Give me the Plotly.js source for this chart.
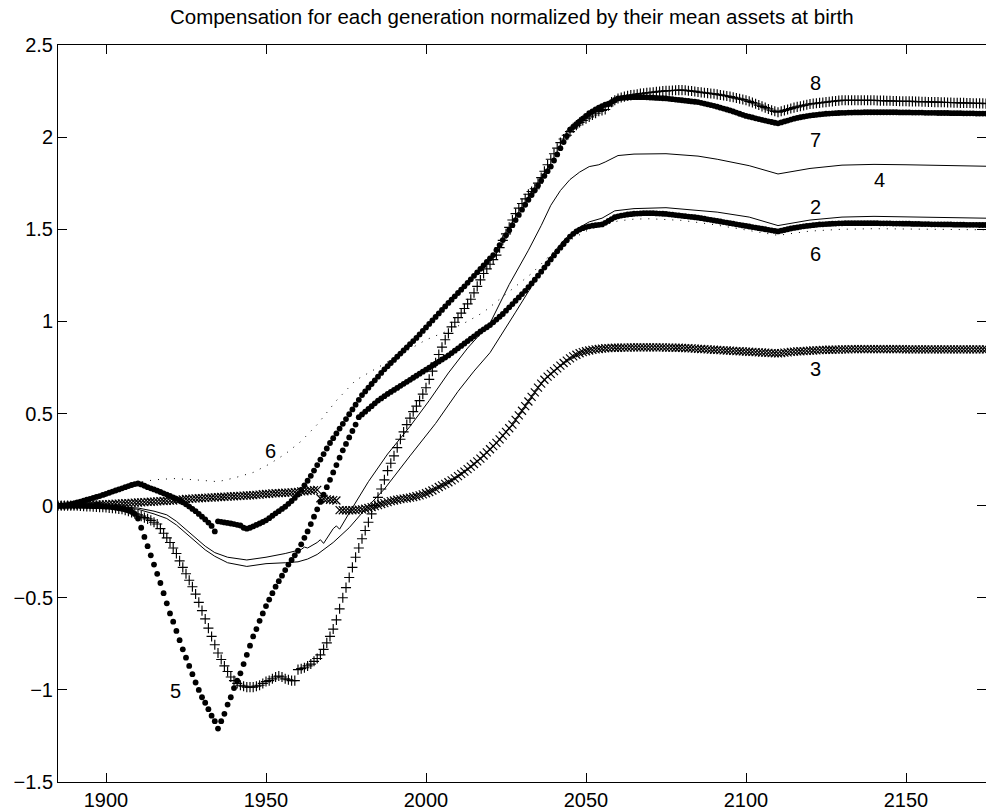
<!DOCTYPE html>
<html>
<head>
<meta charset="utf-8">
<script src="https://cdn.plot.ly/plotly-3.0.1.min.js"></script>
<style>
  html, body { margin: 0; padding: 0; background: #fff; }
  #chart { width: 986px; height: 811px; }
</style>
</head>
<body>
<div id="chart"></div>
<script>
// Generations born 1885..2175, one value per birth year for the marker series.
const firstYear = 1885;

// Scenario 8 ('+' markers)
const s8 = [
  0, 0, 0, 0, 0, 0, -0.001, -0.002, -0.003, -0.004,
  -0.005, -0.006, -0.007, -0.008, -0.009, -0.01, -0.012, -0.014, -0.016, -0.018,
  -0.02, -0.025, -0.03, -0.037, -0.044, -0.05, -0.057, -0.065, -0.072, -0.08,
  -0.09, -0.1, -0.125, -0.15, -0.175, -0.2, -0.23, -0.26, -0.3, -0.335,
  -0.37, -0.405, -0.44, -0.48, -0.525, -0.57, -0.615, -0.665, -0.71, -0.755,
  -0.8, -0.835, -0.87, -0.9, -0.93, -0.95, -0.965, -0.975, -0.98, -0.985,
  -0.985, -0.985, -0.98, -0.975, -0.965, -0.955, -0.95, -0.94, -0.93, -0.925,
  -0.93, -0.94, -0.945, -0.95, -0.95, -0.89, -0.885, -0.88, -0.87, -0.86,
  -0.845, -0.83, -0.81, -0.78, -0.745, -0.71, -0.67, -0.62, -0.56, -0.5,
  -0.445, -0.39, -0.335, -0.28, -0.23, -0.18, -0.135, -0.09, -0.045, 0.0,
  0.045, 0.09, 0.14, 0.19, 0.23, 0.27, 0.315, 0.36, 0.4, 0.44,
  0.475, 0.51, 0.54, 0.57, 0.605, 0.64, 0.685, 0.73, 0.775, 0.82,
  0.86, 0.9, 0.935, 0.97, 0.995, 1.02, 1.045, 1.07, 1.095, 1.12,
  1.155, 1.19, 1.225, 1.26, 1.285, 1.31, 1.335, 1.36, 1.4, 1.44,
  1.475, 1.51, 1.55, 1.585, 1.615, 1.64, 1.665, 1.69, 1.705, 1.72,
  1.75, 1.78, 1.815, 1.85, 1.88, 1.91, 1.94, 1.97, 1.99, 2.01,
  2.03, 2.05, 2.065, 2.08, 2.09, 2.1, 2.11, 2.12, 2.13, 2.14,
  2.145, 2.15, 2.17, 2.19, 2.2, 2.21, 2.215, 2.22, 2.225, 2.228,
  2.23, 2.233, 2.236, 2.238, 2.24, 2.242, 2.244, 2.246, 2.248, 2.25,
  2.251, 2.252, 2.253, 2.254, 2.255, 2.255, 2.254, 2.252, 2.25, 2.248,
  2.245, 2.243, 2.241, 2.239, 2.237, 2.235, 2.232, 2.229, 2.226, 2.223,
  2.22, 2.216, 2.212, 2.208, 2.204, 2.2, 2.194, 2.188, 2.181, 2.174,
  2.167, 2.16, 2.153, 2.146, 2.14, 2.135, 2.14, 2.145, 2.15, 2.155,
  2.16, 2.164, 2.168, 2.172, 2.176, 2.18, 2.182, 2.184, 2.186, 2.188,
  2.19, 2.192, 2.194, 2.196, 2.198, 2.2, 2.2, 2.2, 2.2, 2.2,
  2.2, 2.2, 2.2, 2.2, 2.2, 2.2, 2.199, 2.198, 2.198, 2.197,
  2.197, 2.196, 2.196, 2.195, 2.195, 2.195, 2.194, 2.194, 2.193, 2.193,
  2.192, 2.192, 2.191, 2.191, 2.19, 2.19, 2.189, 2.189, 2.188, 2.188,
  2.187, 2.187, 2.186, 2.186, 2.185, 2.185, 2.184, 2.184, 2.183, 2.183,
  2.182
];

// Scenario 7 (large dots)
const s7 = [
  0, 0, 0, 0.002, 0.006, 0.012, 0.017, 0.022, 0.027, 0.032,
  0.037, 0.042, 0.047, 0.052, 0.058, 0.064, 0.07, 0.076, 0.082, 0.088,
  0.094, 0.1, 0.106, 0.112, 0.117, 0.12, 0.115, 0.108, 0.1, 0.094,
  0.088, 0.081, 0.074, 0.067, 0.06, 0.053, 0.045, 0.037, 0.028, 0.018,
  0.007, -0.005, -0.018, -0.03, -0.045, -0.06, -0.075, -0.092, -0.11, -0.14,
  -0.085, -0.088, -0.091, -0.094, -0.097, -0.1, -0.104, -0.108, -0.12, -0.125,
  -0.12, -0.113, -0.105, -0.097, -0.089, -0.08, -0.068, -0.055, -0.042, -0.03,
  -0.018, -0.006, 0.01, 0.025, 0.042, 0.06, 0.085, 0.11, 0.135, 0.162,
  0.19, 0.22, 0.25, 0.28, 0.31, 0.34, 0.366, 0.392, 0.418, 0.444,
  0.47, 0.496, 0.522, 0.548, 0.574, 0.6, 0.62, 0.64, 0.66, 0.68,
  0.7, 0.72, 0.74, 0.757, 0.774, 0.791, 0.808, 0.825, 0.842, 0.859,
  0.876, 0.893, 0.91, 0.929, 0.948, 0.967, 0.986, 1.005, 1.024, 1.043,
  1.062, 1.081, 1.1, 1.118, 1.136, 1.154, 1.172, 1.19, 1.209, 1.228,
  1.247, 1.266, 1.285, 1.304, 1.323, 1.342, 1.36, 1.387, 1.414, 1.441,
  1.468, 1.495, 1.522, 1.55, 1.578, 1.606, 1.633, 1.66, 1.686, 1.712,
  1.738, 1.764, 1.79, 1.815, 1.84, 1.873, 1.906, 1.94, 1.973, 2.006,
  2.04, 2.055, 2.07, 2.085, 2.1, 2.115, 2.13, 2.14, 2.15, 2.16,
  2.168, 2.176, 2.18, 2.19, 2.2, 2.21, 2.212, 2.214, 2.215, 2.216,
  2.217, 2.217, 2.217, 2.217, 2.216, 2.215, 2.214, 2.213, 2.212, 2.211,
  2.21, 2.208, 2.206, 2.204, 2.202, 2.2, 2.198, 2.196, 2.194, 2.192,
  2.19, 2.186, 2.182, 2.178, 2.174, 2.17, 2.165, 2.16, 2.155, 2.15,
  2.145, 2.139, 2.133, 2.127, 2.121, 2.115, 2.111, 2.107, 2.102, 2.098,
  2.094, 2.09, 2.086, 2.082, 2.078, 2.075, 2.08, 2.085, 2.09, 2.095,
  2.1, 2.104, 2.108, 2.111, 2.114, 2.117, 2.119, 2.121, 2.123, 2.125,
  2.127, 2.128, 2.129, 2.13, 2.131, 2.132, 2.132, 2.133, 2.133, 2.134,
  2.134, 2.134, 2.135, 2.135, 2.135, 2.135, 2.135, 2.135, 2.135, 2.135,
  2.135, 2.135, 2.135, 2.134, 2.134, 2.134, 2.134, 2.133, 2.133, 2.133,
  2.133, 2.132, 2.132, 2.132, 2.132, 2.131, 2.131, 2.131, 2.131, 2.13,
  2.13, 2.13, 2.13, 2.129, 2.129, 2.129, 2.129, 2.128, 2.128, 2.128,
  2.128
];

// Scenario 5 (large dots)
const s5 = [
  0, 0, 0, 0, 0, 0, 0, -0.001, -0.001, -0.002,
  -0.002, -0.003, -0.003, -0.004, -0.005, -0.006, -0.007, -0.009, -0.011, -0.014,
  -0.017, -0.021, -0.026, -0.033, -0.045, -0.07, -0.12, -0.17, -0.22, -0.27,
  -0.32, -0.37, -0.42, -0.475, -0.53, -0.585, -0.63, -0.68, -0.73, -0.78,
  -0.825, -0.87, -0.915, -0.96, -1.0, -1.04, -1.07, -1.105, -1.14, -1.17,
  -1.21, -1.17, -1.13, -1.08, -1.04, -0.99, -0.95, -0.91, -0.86, -0.81,
  -0.76, -0.71, -0.67, -0.625, -0.585, -0.545, -0.51, -0.475, -0.44, -0.41,
  -0.38, -0.35, -0.32, -0.295, -0.27, -0.245, -0.21, -0.175, -0.14, -0.1,
  -0.06, -0.02, 0.02, 0.06, 0.1, 0.14, 0.18, 0.22, 0.26, 0.3,
  0.335, 0.37, 0.405, 0.44, 0.48, 0.495, 0.51, 0.525, 0.54, 0.555,
  0.57, 0.582, 0.594, 0.606, 0.617, 0.628, 0.639, 0.65, 0.661, 0.672,
  0.683, 0.694, 0.705, 0.716, 0.727, 0.738, 0.749, 0.76, 0.771, 0.782,
  0.793, 0.804, 0.815, 0.828, 0.841, 0.854, 0.867, 0.88, 0.893, 0.906,
  0.919, 0.932, 0.945, 0.957, 0.968, 0.98, 0.995, 1.01, 1.025, 1.04,
  1.058, 1.076, 1.094, 1.112, 1.13, 1.148, 1.166, 1.186, 1.206, 1.226,
  1.248, 1.27, 1.292, 1.314, 1.336, 1.358, 1.38, 1.4, 1.42, 1.44,
  1.46, 1.475, 1.488, 1.498, 1.506, 1.512, 1.516, 1.52, 1.522, 1.524,
  1.526, 1.535, 1.545, 1.555, 1.565, 1.57, 1.574, 1.577, 1.58, 1.582,
  1.584, 1.585, 1.586, 1.587, 1.587, 1.587, 1.587, 1.586, 1.585, 1.584,
  1.583, 1.581, 1.579, 1.577, 1.575, 1.573, 1.571, 1.569, 1.567, 1.565,
  1.563, 1.56, 1.557, 1.554, 1.551, 1.548, 1.545, 1.542, 1.539, 1.536,
  1.533, 1.53, 1.527, 1.524, 1.521, 1.518, 1.515, 1.512, 1.509, 1.506,
  1.503, 1.5, 1.497, 1.494, 1.491, 1.488, 1.492, 1.496, 1.5, 1.504,
  1.507, 1.51, 1.513, 1.516, 1.518, 1.52, 1.522, 1.524, 1.526, 1.527,
  1.528, 1.529, 1.53, 1.531, 1.532, 1.532, 1.533, 1.533, 1.533, 1.533,
  1.533, 1.533, 1.533, 1.533, 1.533, 1.533, 1.533, 1.532, 1.532, 1.532,
  1.532, 1.531, 1.531, 1.531, 1.53, 1.53, 1.53, 1.529, 1.529, 1.529,
  1.528, 1.528, 1.528, 1.527, 1.527, 1.527, 1.526, 1.526, 1.526, 1.526,
  1.525, 1.525, 1.525, 1.525, 1.524, 1.524, 1.524, 1.524, 1.523, 1.523,
  1.523
];

// Scenario 3 ('x' markers)
const s3 = [
  0, 0, 0.001, 0.001, 0.002, 0.002, 0.003, 0.003, 0.004, 0.004,
  0.005, 0.005, 0.006, 0.006, 0.007, 0.007, 0.008, 0.009, 0.01, 0.011,
  0.012, 0.013, 0.014, 0.015, 0.016, 0.017, 0.018, 0.019, 0.02, 0.021,
  0.022, 0.023, 0.024, 0.025, 0.026, 0.027, 0.028, 0.03, 0.032, 0.034,
  0.036, 0.037, 0.038, 0.039, 0.04, 0.041, 0.042, 0.043, 0.044, 0.045,
  0.046, 0.047, 0.048, 0.049, 0.05, 0.051, 0.052, 0.053, 0.054, 0.055,
  0.056, 0.057, 0.058, 0.06, 0.062, 0.063, 0.064, 0.066, 0.067, 0.068,
  0.069, 0.07, 0.071, 0.072, 0.073, 0.075, 0.077, 0.078, 0.08, 0.082,
  0.084, 0.085, 0.04, 0.037, 0.034, 0.032, 0.03, 0.028, -0.024, -0.025,
  -0.026, -0.026, -0.025, -0.024, -0.022, -0.02, -0.017, -0.013, -0.008, -0.003,
  0.003, 0.009, 0.014, 0.019, 0.024, 0.028, 0.032, 0.035, 0.038, 0.04,
  0.043, 0.047, 0.051, 0.056, 0.061, 0.067, 0.074, 0.082, 0.091, 0.101,
  0.11, 0.118, 0.127, 0.137, 0.148, 0.16, 0.172, 0.185, 0.198, 0.212,
  0.226, 0.24, 0.255, 0.272, 0.289, 0.306, 0.323, 0.341, 0.36, 0.38,
  0.4, 0.42, 0.44, 0.465, 0.49, 0.515, 0.54, 0.565, 0.59, 0.615,
  0.64, 0.662, 0.683, 0.7, 0.715, 0.73, 0.745, 0.76, 0.774, 0.787,
  0.799, 0.81, 0.819, 0.827, 0.833, 0.838, 0.842, 0.845, 0.848, 0.85,
  0.852, 0.854, 0.855, 0.856, 0.857, 0.857, 0.858, 0.858, 0.858, 0.859,
  0.859, 0.859, 0.859, 0.859, 0.859, 0.859, 0.859, 0.859, 0.859, 0.859,
  0.858, 0.858, 0.858, 0.857, 0.857, 0.856, 0.855, 0.854, 0.853, 0.852,
  0.851, 0.85, 0.849, 0.848, 0.847, 0.846, 0.845, 0.844, 0.843, 0.842,
  0.841, 0.84, 0.839, 0.838, 0.837, 0.836, 0.835, 0.834, 0.833, 0.832,
  0.831, 0.83, 0.829, 0.828, 0.827, 0.826, 0.828, 0.83, 0.832, 0.834,
  0.836, 0.837, 0.838, 0.839, 0.84, 0.841, 0.842, 0.843, 0.844, 0.845,
  0.845, 0.846, 0.846, 0.847, 0.847, 0.848, 0.848, 0.848, 0.849, 0.849,
  0.849, 0.849, 0.849, 0.849, 0.849, 0.849, 0.849, 0.849, 0.849, 0.849,
  0.849, 0.849, 0.849, 0.849, 0.849, 0.848, 0.848, 0.848, 0.848, 0.848,
  0.848, 0.848, 0.848, 0.848, 0.848, 0.848, 0.848, 0.848, 0.848, 0.848,
  0.848, 0.848, 0.848, 0.848, 0.848, 0.848, 0.848, 0.848, 0.848, 0.848,
  0.848
];

// Scenario 2 (thin solid line)
const s2Years = [1885, 1895, 1900, 1905, 1910, 1915, 1919, 1922, 1925, 1928, 1931, 1934, 1938, 1944, 1950, 1956, 1960, 1963, 1966, 1971, 1976, 1981, 1987, 1995, 2003, 2010, 2015, 2020, 2023, 2028, 2033, 2038, 2043, 2047, 2051, 2055, 2059, 2065, 2075, 2085, 2091, 2101, 2110, 2120, 2130, 2140, 2150, 2160, 2175];
const s2Vals  = [0, 0, -0.004, -0.009, -0.02, -0.045, -0.07, -0.105, -0.15, -0.195, -0.24, -0.275, -0.31, -0.33, -0.315, -0.31, -0.305, -0.29, -0.265, -0.2, -0.12, -0.02, 0.09, 0.27, 0.446, 0.62, 0.73, 0.83, 0.915, 1.05, 1.19, 1.33, 1.44, 1.5, 1.54, 1.56, 1.6, 1.612, 1.617, 1.603, 1.593, 1.566, 1.52, 1.55, 1.566, 1.57, 1.568, 1.565, 1.56];

// Scenario 4 (thin solid line)
const s4Years = [1885, 1895, 1900, 1905, 1910, 1915, 1919, 1922, 1925, 1928, 1931, 1934, 1938, 1944, 1950, 1956, 1960, 1961, 1962, 1963, 1966, 1967, 1968, 1971, 1972, 1973, 1976, 1982, 1988, 1995, 2001, 2007, 2013, 2020, 2026, 2032, 2036, 2039, 2042, 2045, 2048, 2051, 2054, 2056, 2060, 2065, 2075, 2085, 2091, 2101, 2110, 2120, 2130, 2140, 2150, 2160, 2175];
const s4Vals  = [0, 0, -0.003, -0.007, -0.013, -0.03, -0.05, -0.085, -0.13, -0.175, -0.22, -0.255, -0.28, -0.295, -0.28, -0.26, -0.245, -0.238, -0.225, -0.23, -0.2, -0.185, -0.205, -0.125, -0.11, -0.128, -0.04, 0.13, 0.28, 0.43, 0.57, 0.72, 0.855, 0.99, 1.2, 1.386, 1.52, 1.63, 1.71, 1.77, 1.81, 1.84, 1.85, 1.865, 1.9, 1.908, 1.91, 1.897, 1.88, 1.845, 1.8, 1.83, 1.848, 1.852, 1.85, 1.846, 1.842];

// Scenario 6 (dotted line)
const s6Years = [1885, 1890, 1895, 1900, 1905, 1910, 1915, 1921, 1928, 1935, 1940, 1946, 1951, 1956, 1961, 1966, 1972, 1978, 1984, 1989, 1995, 2000, 2007, 2013, 2018, 2023, 2028, 2033, 2040, 2045, 2050, 2055, 2060, 2065, 2070, 2080, 2090, 2100, 2110, 2120, 2130, 2140, 2150, 2160, 2175];
const s6Vals  = [0, 0.012, 0.03, 0.05, 0.09, 0.125, 0.14, 0.147, 0.14, 0.13, 0.15, 0.18, 0.225, 0.28, 0.35, 0.44, 0.57, 0.68, 0.74, 0.79, 0.85, 0.9, 0.95, 1.0, 1.05, 1.12, 1.19, 1.26, 1.38, 1.44, 1.49, 1.52, 1.545, 1.555, 1.557, 1.548, 1.525, 1.495, 1.467, 1.49, 1.5, 1.503, 1.502, 1.5, 1.497];

// Curve labels placed next to the lines
const labelText = ['8', '7', '4', '2', '6', '3', '6', '5'];
const labelX    = [2121.8, 2121.8, 2141.6, 2121.8, 2121.8, 2121.8, 1951.5, 1921.8];
const labelY    = [2.293, 1.986, 1.765, 1.62, 1.367, 0.744, 0.295, -1.006];

const xTicks = [1900, 1950, 2000, 2050, 2100, 2150];
const yTicks = [-1.5, -1, -0.5, 0, 0.5, 1, 1.5, 2, 2.5];

const FONT = 'Liberation Sans, Arial, Helvetica, sans-serif';

function markerSeries(vals, symbol, size, filled) {
  const m = filled
    ? { symbol: symbol, size: size, color: '#000' }
    : { symbol: symbol, size: size, color: '#000', line: { color: '#000', width: 1.15 } };
  return { type: 'scatter', mode: 'markers', x0: firstYear, dx: 1, y: vals, marker: m, hoverinfo: 'skip' };
}

function lineSeries(xs, ys, dash) {
  return { type: 'scatter', mode: 'lines', x: xs, y: ys,
           line: { color: '#000', width: 1, dash: dash }, hoverinfo: 'skip' };
}

const traces = [
  lineSeries(s2Years, s2Vals, 'solid'),
  lineSeries(s4Years, s4Vals, 'solid'),
  lineSeries(s6Years, s6Vals, '1px,7px'),
  markerSeries(s3, 'x-thin', 8, false),
  markerSeries(s8, 'cross-thin', 7.2, false),
  markerSeries(s5, 'circle', 5.8, true),
  markerSeries(s7, 'circle', 5.8, true)
];

const annotations = labelText.map((t, i) => ({
  text: t, x: labelX[i], y: labelY[i], xref: 'x', yref: 'y',
  showarrow: false, font: { family: FONT, size: 20, color: '#000' }
}));

const axisCommon = {
  ticks: 'inside', ticklen: 9, tickwidth: 1, tickcolor: '#000',
  showline: true, linecolor: '#000', linewidth: 1, mirror: 'ticks',
  showgrid: false, zeroline: false,
  tickfont: { family: FONT, size: 20, color: '#000' }
};

const layout = {
  width: 986, height: 811,
  margin: { l: 58, r: 0, t: 45, b: 29 },
  paper_bgcolor: '#fff', plot_bgcolor: '#fff',
  showlegend: false,
  font: { family: FONT, size: 20, color: '#000' },
  title: {
    text: 'Compensation for each generation normalized by their mean assets at birth',
    font: { family: FONT, size: 20.5, color: '#000' },
    x: 0.489, xref: 'paper', y: 0.979, yref: 'container', yanchor: 'middle'
  },
  xaxis: Object.assign({}, axisCommon, { range: [1885, 2175], tickvals: xTicks }),
  yaxis: Object.assign({}, axisCommon, { range: [-1.5, 2.5], tickvals: yTicks }),
  annotations: annotations
};

Plotly.newPlot('chart', traces, layout, { staticPlot: true, displayModeBar: false });
</script>
</body>
</html>
